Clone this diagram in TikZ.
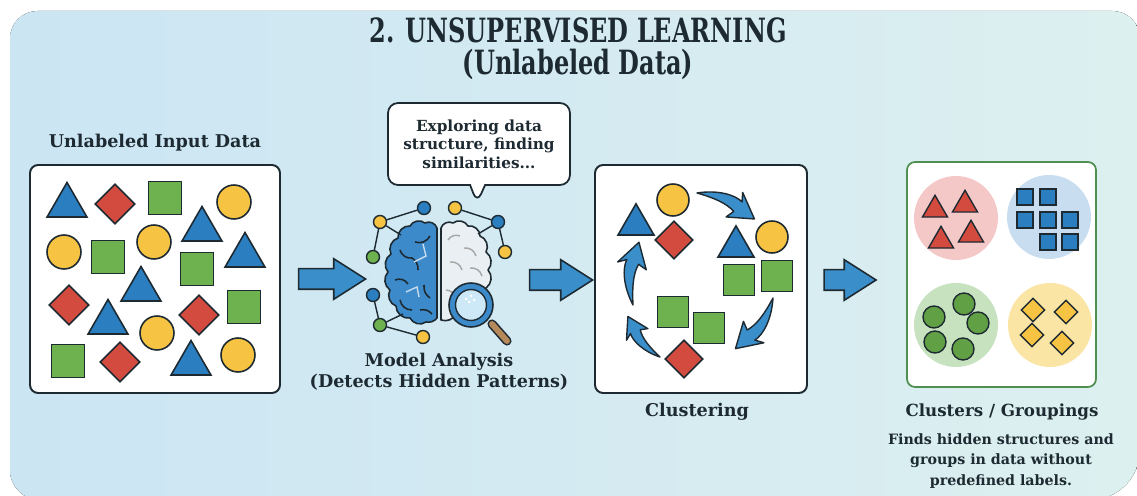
\documentclass[tikz,border=0pt]{standalone}
\usepackage{fontspec}
\setmainfont{DejaVu Serif}
\newfontfamily\headfont[FakeStretch=0.8]{DejaVu Serif Condensed}
\usetikzlibrary{shapes.geometric,shapes.arrows,shapes.callouts}
\definecolor{ink}{HTML}{1E2A32}
\definecolor{bgleft}{HTML}{CBE5F3}
\definecolor{bgright}{HTML}{DDF0F0}
\definecolor{shapeblue}{HTML}{2B7FC0}
\definecolor{shapered}{HTML}{D24B3E}
\definecolor{shapegreen}{HTML}{6DB24E}
\definecolor{shapeyellow}{HTML}{F6C342}
\definecolor{arrowblue}{HTML}{3A8FCB}
\definecolor{brainblue}{HTML}{3D8ACB}
\definecolor{braingrey}{HTML}{E9EFF2}
\definecolor{lens}{HTML}{CDE8F6}
\definecolor{handle}{HTML}{B5895A}
\definecolor{framegreen}{HTML}{4F8F4F}
\definecolor{grppink}{HTML}{F5C8C8}
\definecolor{grpblue}{HTML}{C8DEF0}
\definecolor{grpgreen}{HTML}{C7E2BF}
\definecolor{grpyellow}{HTML}{FAE5A5}
\tikzset{
  head/.style={font=\headfont\bfseries\fontsize{19}{23}\selectfont, text=ink},
  lbl/.style={font=\bfseries\fontsize{10}{12}\selectfont, text=ink, align=center},
  note/.style={font=\bfseries\fontsize{8.1}{11.6}\selectfont, text=ink, align=center},
  card/.style={draw=ink, fill=white, line width=1.1pt, rounded corners=0.16cm},
  shp/.style={draw=ink, line width=0.9pt, inner sep=0pt},              % data item outline
  tri/.style={shp, regular polygon, regular polygon sides=3, fill=shapeblue, minimum size=0.92cm},
  dia/.style={shp, diamond, fill=shapered, minimum size=0.8cm},
  sq/.style={shp, rectangle, fill=shapegreen, minimum size=0.66cm},
  dot/.style={shp, circle, fill=shapeyellow, minimum size=0.68cm},
  grp/.style={circle, minimum size=1.68cm, inner sep=0pt},             % cluster halo
  blockarrow/.style={single arrow, draw=ink, fill=arrowblue, line width=0.9pt,
             inner sep=0.19cm, single arrow head extend=0.2cm,
             single arrow tip angle=65},
  bubble/.style={rectangle callout, draw=ink, fill=white, line width=1pt,
             rounded corners=0.2cm, minimum width=3.64cm, minimum height=1.64cm,
             callout pointer width=0.3cm, align=center, text=ink,
             font=\bfseries\fontsize{8.7}{10.5}\selectfont},
  knot/.style={circle, draw=ink, line width=0.8pt, minimum size=0.26cm, inner sep=0pt},
  link/.style={draw=ink, line width=0.8pt},
  brainline/.style={draw=ink, line width=0.9pt, line join=round},
  swoosh/.pic={
    \draw[ink, line width=0.8pt, fill=arrowblue, line join=round]
      (0,0) .. controls (18,-11) and (36,-13) .. (45,-9) -- (42,-18) -- (63,2)
      -- (36,11) -- (41,3) .. controls (31,-2) and (17,-2) .. (0,0) -- cycle;
  },
}

\begin{document}
\begin{tikzpicture}[x=0.02cm, y=-0.02cm]
  \useasboundingbox (0,0) rectangle (1137,496);
  \fill[white] (0,0) rectangle (1137,496);
  \fill[left color=bgleft, right color=bgright] (10,300) [rounded corners=0.55cm] -- (10,11)
    -- (1140,11) [rounded corners=1cm] -- (1140,500) [rounded corners=0.6cm] -- (10,500) -- cycle;

  \node[head] (title) at (578,30) {2. UNSUPERVISED LEARNING};
  \node[head] (subtitle) at (578,64) {(Unlabeled Data)};

  % raw data
  \node[lbl] (inlabel) at (155,143) {Unlabeled Input Data};
  \node[card, minimum width=5cm, minimum height=4.56cm] (inbox) at (155,279) {};
  \foreach \x/\y [count=\i] in {67/205.5,202/229.5,245/255.5,141/289.5,108/322.5,191/363.5}
    \node[tri] (it\i) at (\x,\y) {};
  \foreach \x/\y [count=\i] in {115/204,69/305,199/315,120/362}
    \node[dia] (id\i) at (\x,\y) {};
  \foreach \x/\y [count=\i] in {165/198,108/257,197/269,244/307,68/361}
    \node[sq] (is\i) at (\x,\y) {};
  \foreach \x/\y [count=\i] in {234/202,64/252,154/242,157/333,238/355}
    \node[dot] (ic\i) at (\x,\y) {};

  \node[blockarrow, minimum height=1.34cm, minimum width=0.8cm] (step1) at (324,279) {};

  % model
  \node[bubble, callout absolute pointer={(477,203)}] (think) at (479,144)
    {Exploring data\\structure, finding\\similarities...};
  \draw[brainline, fill=brainblue] (437,228) to[bend right=50] (425,223) to[bend right=50] (410,226)
    to[bend right=50] (398,238) to[bend right=50] (391,254) to[bend right=50] (388,272)
    to[bend right=50] (390,290) to[bend right=50] (396,306) to[bend right=50] (410,318)
    to[bend right=50] (426,322) to[bend right=30] (437,318) -- cycle;
  \draw[brainline] (430,236) to[bend left=40] (415,242);
  \draw[brainline] (400,250) to[bend right=40] (412,258) to[bend left=30] (418,270);
  \draw[brainline] (395,280) to[bend left=40] (408,284);
  \draw[brainline] (424,285) to[bend right=30] (430,298);
  \draw[brainline] (400,300) to[bend right=40] (412,310);
  \draw[brainline] (420,310) to[bend left=30] (432,314);
  \draw[white!70!brainblue, line width=0.8pt] (414,262) -- (426,256) -- (423,244);
  \draw[white!70!brainblue, line width=0.8pt] (406,292) -- (417,287) -- (419,297);
  \draw[brainline, fill=braingrey] (441,228) to[bend left=50] (453,223) to[bend left=50] (468,226)
    to[bend left=50] (480,236) to[bend left=50] (486,252) to[bend left=50] (488,270)
    to[bend left=50] (486,288) -- (470,300) -- (456,314)
    to[bend left=40] (441,320) -- cycle;
  \foreach \xa/\ya/\xb/\yb in {448/240/460/236, 464/248/476/256, 450/262/462/270, 470/268/482/276, 446/290/455/298}
    \draw[black!35, line width=0.8pt] (\xa,\ya) to[bend left=40] (\xb,\yb);
  \draw[ink, line width=5.2pt, line cap=round] (492,324) -- (507,341);
  \draw[handle, line width=3.4pt, line cap=round] (492,324) -- (507,341);
  \node[circle, draw=ink, fill=brainblue, line width=0.9pt, minimum size=0.88cm] (glass) at (471,305) {};
  \node[circle, draw=ink, fill=lens, line width=0.8pt, minimum size=0.62cm] (lensin) at (471,305) {};
  \foreach \x/\y in {466/299,471/296,469/302,474/300}
    \fill[white] (\x,\y) circle (1.5);

  \node[knot, fill=shapeblue] (nb1) at (424,208) {};
  \node[knot, fill=shapeyellow] (ny1) at (380,222) {};
  \node[knot, fill=shapegreen] (ng1) at (373,257) {};
  \node[knot, fill=shapeyellow] (ny2) at (455,208) {};
  \node[knot, fill=shapeblue] (nb2) at (498,222) {};
  \node[knot, fill=shapeyellow] (ny3) at (505,252) {};
  \node[knot, fill=shapeblue] (nb3) at (373,295) {};
  \node[knot, fill=shapegreen] (ng2) at (380,325) {};
  \node[knot, fill=shapeyellow] (ny4) at (423,337) {};
  \coordinate (bl1) at (401,235);
  \coordinate (bl2) at (403,314);
  \coordinate (br1) at (478,234);
  \foreach \u/\v in {ny1/nb1,ny1/ng1,ny1/bl1,ny2/nb2,nb2/ny3,nb2/br1,nb3/ng2,ng2/ny4,ng2/bl2}
    \draw[link] (\u) -- (\v);
  \node[lbl] (modellabel) at (439,372) {Model Analysis\\(Detects Hidden Patterns)};

  \node[blockarrow, minimum height=1.26cm, minimum width=0.8cm] (step2) at (553,280) {};

  % clustering
  \node[card, minimum width=4.24cm, minimum height=4.56cm] (clubox) at (701,279) {};
  \node[tri, minimum size=0.83cm] (ct1) at (636,224.6) {};
  \node[tri, minimum size=0.83cm] (ct2) at (736,246.6) {};
  \node[dot, minimum size=0.64cm] (cc1) at (673,200) {};
  \node[dot, minimum size=0.64cm] (cc2) at (772,237) {};
  \node[dia, minimum size=0.76cm] (cd1) at (674,240) {};
  \node[dia, minimum size=0.76cm] (cd2) at (684,359) {};
  \foreach \x/\y [count=\i] in {739/280,777/276,673/312,709/328}
    \node[sq, minimum size=0.62cm] (cs\i) at (\x,\y) {};
  \pic[rotate=-22.5] at (697,193) {swoosh};
  \pic[rotate=-124.7] at (773,298) {swoosh};
  \pic[rotate=130.2, scale=0.82] at (660,357) {swoosh};
  \pic[rotate=86.4] at (633,305) {swoosh};
  \node[lbl] (clulabel) at (697,412) {Clustering};

  \node[blockarrow, minimum height=1.04cm, minimum width=0.8cm] (step3) at (842,280) {};

  % result
  \node[card, draw=framegreen, line width=1pt, minimum width=3.78cm, minimum height=4.5cm] (resbox) at (1001.5,274.5) {};
  \node[grp, fill=grppink] (grpA) at (956,218) {};
  \node[grp, fill=grpblue] (grpB) at (1049,217) {};
  \node[grp, fill=grpgreen] (grpC) at (956,325) {};
  \node[grp, fill=grpyellow] (grpD) at (1050,325) {};
  \foreach \x/\y [count=\i] in {935/209.8,965/204.8,941/240.8,971/234.8}
    \node[tri, fill=shapered, minimum size=0.58cm, line width=0.8pt] (rt\i) at (\x,\y) {};
  \foreach \x/\y [count=\i] in {1025/197,1048/197,1025/220,1048/220,1070/220,1048/242,1070/242}
    \node[sq, fill=shapeblue, minimum size=0.32cm, line width=0.8pt] (bq\i) at (\x,\y) {};
  \foreach \x/\y [count=\i] in {964/304,934/317,978/323,935/342,963/349}
    \node[dot, fill=shapegreen!90!black, minimum size=0.44cm, line width=0.8pt] (gc\i) at (\x,\y) {};
  \foreach \x/\y [count=\i] in {1033/310,1066/312,1032/335,1062/343}
    \node[dia, fill=shapeyellow, minimum size=0.48cm, line width=0.8pt] (yd\i) at (\x,\y) {};
  \node[lbl, font=\bfseries\fontsize{9.5}{12}\selectfont] (reslabel) at (1002,412) {Clusters / Groupings};
  \node[note] (resnote) at (1001,461) {Finds hidden structures and\\groups in data without\\predefined labels.};
\end{tikzpicture}
\end{document}
